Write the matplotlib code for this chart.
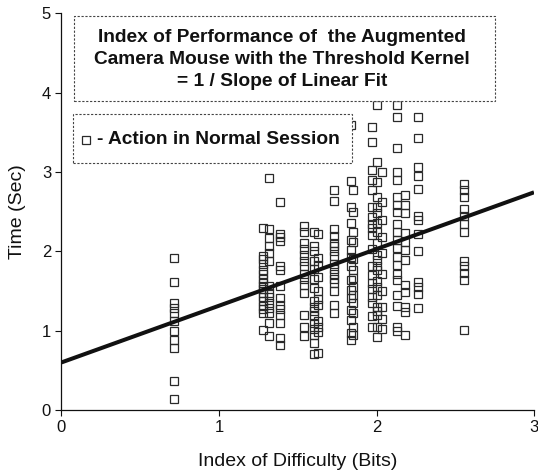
import matplotlib
matplotlib.use("Agg")
import matplotlib.pyplot as plt
from matplotlib.patches import Rectangle

# ---- data (Index of Difficulty columns, times in seconds) ----
ids = [0.714, 1.277, 1.317, 1.387, 1.540, 1.603, 1.629, 1.730, 1.835,
       1.851, 1.971, 2.003, 2.035, 2.130, 2.184, 2.263, 2.556]

t_c1 = [1.92, 1.62, 1.35, 1.29, 1.22, 1.12, 0.99, 0.88, 0.78, 0.36, 0.14]
t_c2 = [2.30, 1.94, 1.90, 1.84, 1.77, 1.71, 1.65, 1.60, 1.56, 1.52, 1.47,
        1.43, 1.37, 1.31, 1.27, 1.22, 1.01]
t_c3 = [2.93, 2.28, 2.17, 2.07, 1.98, 1.88, 1.56, 1.48, 1.42, 1.35, 1.28,
        1.22, 1.10, 0.93]
t_c4 = [2.62, 2.22, 2.18, 2.13, 1.81, 1.76, 1.56, 1.41, 1.33, 1.27, 1.20,
        1.10, 0.91, 0.82]
t_c5 = [2.32, 2.24, 2.11, 2.03, 1.96, 1.88, 1.81, 1.72, 1.65, 1.58, 1.48,
        1.20, 1.05, 0.93]
t_c6 = [2.24, 2.07, 2.00, 1.88, 1.78, 1.65, 1.54, 1.37, 1.30, 1.25, 1.18,
        1.10, 1.02, 0.95, 0.85, 0.70]
t_c7 = [2.22, 1.92, 1.83, 1.68, 1.50, 1.40, 1.32, 1.12, 1.05, 0.98, 0.72]
t_c8 = [2.78, 2.63, 2.28, 2.19, 2.11, 2.07, 2.00, 1.94, 1.84, 1.78, 1.71,
        1.65, 1.60, 1.50, 1.33, 1.22]
t_c9 = [3.60, 2.89, 2.56, 2.36, 2.14, 2.02, 1.93, 1.81, 1.64, 1.51, 1.41,
        1.26, 1.13, 0.97, 0.88]
t_c10 = [2.77, 2.50, 2.25, 2.12, 1.90, 1.77, 1.66, 1.55, 1.45, 1.35, 1.22,
         1.05, 0.95]
t_c11 = [3.57, 3.38, 3.03, 2.90, 2.77, 2.56, 2.44, 2.35, 2.29, 2.21, 2.03,
         1.81, 1.70, 1.60, 1.52, 1.42, 1.35, 1.18, 1.05]
t_c12 = [3.85, 3.13, 2.88, 2.69, 2.56, 2.48, 2.36, 2.25, 2.10, 1.95, 1.89,
         1.82, 1.77, 1.63, 1.55, 1.45, 1.30, 1.25, 1.20, 1.05, 0.92]
t_c13 = [3.00, 2.62, 2.40, 2.18, 1.98, 1.72, 1.50, 1.30, 1.15, 1.02]
t_c14 = [3.85, 3.70, 3.30, 3.00, 2.90, 2.69, 2.59, 2.50, 2.35, 2.25, 2.14,
         2.04, 1.93, 1.83, 1.72, 1.64, 1.45, 1.31, 1.05, 0.99]
t_c15 = [2.71, 2.59, 2.48, 2.23, 2.12, 2.02, 1.89, 1.58, 1.49, 1.30, 1.24,
         0.95]
t_c16 = [3.69, 3.43, 3.06, 2.95, 2.79, 2.45, 2.40, 2.22, 2.00, 1.62, 1.55,
         1.46, 1.29]
t_c17 = [2.85, 2.78, 2.69, 2.53, 2.45, 2.34, 2.24, 1.88, 1.81, 1.73, 1.64,
         1.01]

columns = [t_c1, t_c2, t_c3, t_c4, t_c5, t_c6, t_c7, t_c8, t_c9, t_c10,
           t_c11, t_c12, t_c13, t_c14, t_c15, t_c16, t_c17]

fit_intercept = 0.60
fit_slope = 0.715
fit_x = [0, 3]

xticks = [0, 1, 2, 3]
yticks = [0, 1, 2, 3, 4, 5]

title_lines = ["Index of Performance of  the Augmented",
               "Camera Mouse with the Threshold Kernel",
               "= 1 / Slope of Linear Fit"]
legend_label = "- Action in Normal Session"
xlabel = "Index of Difficulty (Bits)"
ylabel = "Time (Sec)"

# ---- figure ----
W, H = 538, 471
plt.rcParams['font.family'] = ['Liberation Sans', 'DejaVu Sans']
fig = plt.figure(figsize=(W / 100, H / 100), dpi=100)

def fx(px):
    return px / W

def fy(py):
    return 1 - py / H

ax = fig.add_axes([fx(61.5), fy(410), fx(534) - fx(61.5), fy(13.5) - fy(410)])

xs, ys = [], []
for xv, col in zip(ids, columns):
    for tv in col:
        xs.append(xv)
        ys.append(tv)

ax.plot(xs, ys, linestyle='none', marker='s', ms=5.3, mfc='none',
        mec='#2a2a2a', mew=0.9, zorder=2, clip_on=False)

fy_vals = [fit_intercept + fit_slope * v for v in fit_x]
ax.plot(fit_x, fy_vals, color='#111111', lw=2.9, solid_capstyle='butt',
        zorder=3)

ax.set_xlim(0, 3)
ax.set_ylim(0, 5)
ax.set_xticks(xticks)
ax.set_yticks(yticks)
ax.tick_params(direction='out', length=4.5, width=0.8, labelsize=12,
               colors='#111111', pad=3)
for s in ['top', 'right']:
    ax.spines[s].set_visible(False)
for s in ['left', 'bottom']:
    ax.spines[s].set_linewidth(0.9)
    ax.spines[s].set_color('#111111')

# axis labels
fig.text(fx(297.7), fy(466.5), xlabel, ha='center', va='baseline',
         fontsize=14, color='#111111')
fig.text(fx(18), fy(212), ylabel, ha='center', va='center', rotation=90,
         fontsize=14, color='#111111')

# box 1 (title)
box_style = dict(fill=True, facecolor='white', edgecolor='#444444', lw=0.8,
                 linestyle=(0, (2, 1.5)), transform=fig.transFigure,
                 zorder=5)
fig.patches.append(Rectangle((fx(74), fy(101)), fx(495) - fx(74),
                             fy(16) - fy(101), **box_style))
for i, line in enumerate(title_lines):
    fig.text(fx(282), fy(37 + 22.5 * i), line, ha='center', va='center',
             fontsize=13.8, fontweight='bold', color='#111111', zorder=6)

# box 2 (legend)
fig.patches.append(Rectangle((fx(72.7), fy(163.3)), fx(351.7) - fx(72.7),
                             fy(114.3) - fy(163.3), **box_style))
fig.lines.append(plt.Line2D([fx(86)], [fy(140)], transform=fig.transFigure,
                            linestyle='none', marker='s', ms=5.3, mfc='none',
                            mec='#2a2a2a', mew=0.9, zorder=6))
fig.text(fx(97), fy(140), legend_label, ha='left', va='center',
         fontsize=13.8, fontweight='bold', color='#111111', zorder=6)

fig.savefig("out.png", dpi=100)
